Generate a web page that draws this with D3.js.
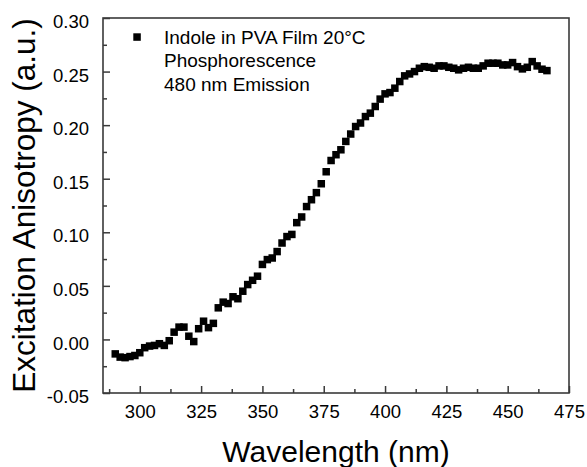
<!DOCTYPE html>
<html>
<head>
<meta charset="utf-8">
<script src="https://cdn.jsdelivr.net/npm/d3@7"></script>
<style>
  body { margin: 0; background: #fff; }
  svg { display: block; font-family: "Liberation Sans", Arial, sans-serif; }
</style>
</head>
<body>
<svg width="587" height="467"></svg>
<script>
// wavelength (nm) and excitation anisotropy
var wavelength = d3.range(290, 467, 2);
var anisotropy = [
  -0.0135, -0.0165, -0.017, -0.016, -0.015, -0.0124, -0.0077, -0.0062, -0.0056, -0.004,
  -0.0056, -0.0012, 0.0068, 0.0115, 0.0115, 0.003, -0.002, 0.010, 0.017, 0.011,
  0.015, 0.0295, 0.0348, 0.0335, 0.0398, 0.038, 0.045, 0.0512, 0.0552, 0.059,
  0.070, 0.0745, 0.076, 0.082, 0.090, 0.096, 0.098, 0.109, 0.1143, 0.124,
  0.1304, 0.137, 0.1453, 0.1565, 0.167, 0.1724, 0.177, 0.1848, 0.1917, 0.1987,
  0.202, 0.208, 0.2112, 0.2174, 0.2243, 0.2292, 0.2304, 0.2345, 0.2407, 0.246,
  0.2478, 0.25, 0.2531, 0.2546, 0.254, 0.2531, 0.2553, 0.2553, 0.254, 0.2531,
  0.2516, 0.2531, 0.254, 0.2531, 0.2531, 0.2553, 0.2578, 0.2578, 0.2578, 0.2562,
  0.2562, 0.2584, 0.2546, 0.2525, 0.254, 0.2593, 0.2553, 0.2522, 0.2509
];
var xTicks = [300, 325, 350, 375, 400, 425, 450, 475];
var xMinor = [287.5, 312.5, 337.5, 362.5, 387.5, 412.5, 437.5, 462.5];
var yTicks = [-0.05, 0, 0.05, 0.10, 0.15, 0.20, 0.25, 0.30];
var yMinor = [-0.025, 0.025, 0.075, 0.125, 0.175, 0.225, 0.275];
var legendLines = ["Indole in PVA Film 20°C", "Phosphorescence", "480 nm Emission"];

var data = wavelength.map(function(w, i) { return {x: w, y: anisotropy[i]}; });

var svg = d3.select("svg"),
    margin = {top: 18, right: 18, bottom: 74, left: 103},
    width = +svg.attr("width") - margin.left - margin.right,
    height = +svg.attr("height") - margin.top - margin.bottom;

var x = d3.scaleLinear().domain([285, 475]).range([0, width]);
var y = d3.scaleLinear().domain([-0.05, 0.30]).range([height, 0]);

var g = svg.append("g").attr("transform", "translate(" + margin.left + "," + margin.top + ")");
var axisColor = "#3a3a3a";
var fmt2 = d3.format(".2f");

// minor ticks
g.append("g")
    .attr("transform", "translate(0," + height + ")")
    .call(d3.axisBottom(x).tickValues(xMinor).tickSize(-4).tickFormat(""))
    .call(function(a) { a.select(".domain").remove(); });
g.append("g")
    .call(d3.axisLeft(y).tickValues(yMinor).tickSize(-4).tickFormat(""))
    .call(function(a) { a.select(".domain").remove(); });

// major ticks + labels
var xAxis = g.append("g")
    .attr("transform", "translate(0," + height + ")")
    .call(d3.axisBottom(x).tickValues(xTicks).tickSize(-7).tickPadding(12).tickFormat(d3.format("d")));
xAxis.select(".domain").remove();

var yAxis = g.append("g")
    .call(d3.axisLeft(y).tickValues(yTicks).tickSize(-7).tickPadding(14)
      .tickFormat(function(d) { return fmt2(d).replace("\u2212", "-"); }));
yAxis.select(".domain").remove();
yAxis.selectAll("text").attr("dy", "0.52em");

g.selectAll(".tick line").attr("stroke", axisColor).attr("stroke-width", 1.5);
g.selectAll(".tick text").attr("font-size", 18.5).attr("fill", "#000")
    .attr("font-family", "'Liberation Sans', Arial, sans-serif");

// frame
g.append("rect")
    .attr("width", width)
    .attr("height", height)
    .attr("fill", "none")
    .attr("stroke", axisColor)
    .attr("stroke-width", 1.6);

// points
g.selectAll(".pt")
    .data(data)
  .enter().append("rect")
    .attr("class", "pt")
    .attr("x", function(d) { return x(d.x) - 3.75; })
    .attr("y", function(d) { return y(d.y) - 3.75; })
    .attr("width", 7.5)
    .attr("height", 7.5)
    .attr("fill", "#000");

// legend
svg.append("rect")
    .attr("x", 133.3).attr("y", 33.3)
    .attr("width", 7.5).attr("height", 7.5)
    .attr("fill", "#000");
svg.append("g").selectAll("text")
    .data(legendLines)
  .enter().append("text")
    .attr("x", 164)
    .attr("y", function(d, i) { return 43.5 + i * 23.8; })
    .attr("font-size", 19)
    .text(function(d) { return d; });

// axis titles
svg.append("text")
    .attr("x", margin.left + width / 2)
    .attr("y", 461.5)
    .attr("text-anchor", "middle")
    .attr("font-size", 30)
    .text("Wavelength (nm)");

svg.append("text")
    .attr("transform", "translate(35," + (margin.top + height / 2) + ") rotate(-90)")
    .attr("text-anchor", "middle")
    .attr("font-size", 31.5)
    .text("Excitation Anisotropy (a.u.)");
</script>
</body>
</html>
